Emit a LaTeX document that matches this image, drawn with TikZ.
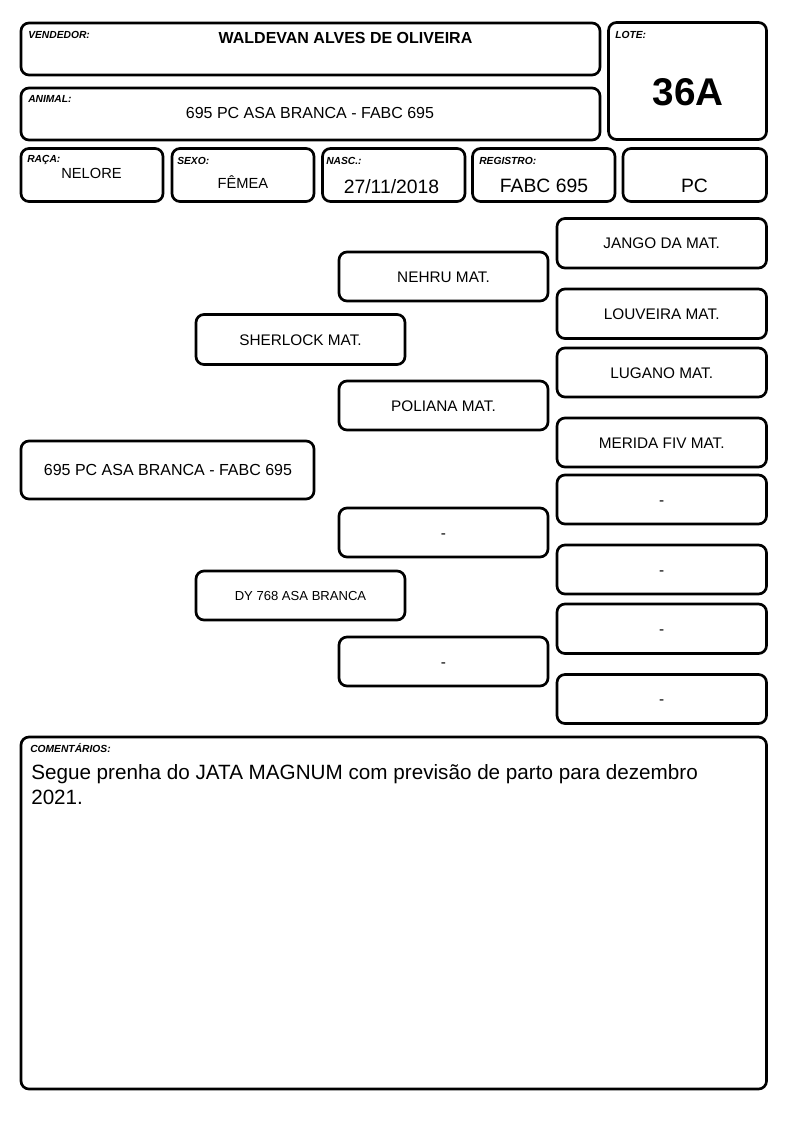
\documentclass[tikz,border=0pt]{standalone}
\usepackage{fontspec}
\setmainfont{Liberation Sans}
\begin{document}
\begin{tikzpicture}[x=0.75pt,y=-0.75pt,
  box/.style={draw=black,line width=2pt,rounded corners=6pt},
  lbl/.style={inner sep=0,anchor=base west,font=\fontsize{7.7}{9}\selectfont\bfseries\itshape},
  val/.style={inner sep=0,anchor=base},
  ped/.style={inner sep=0,anchor=base,font=\fontsize{11.5}{13}\selectfont},
]
\fill[white] (0,0) rectangle (794,1123);
\useasboundingbox (0,0) rectangle (794,1123);

% header boxes
\draw[box] (21,23) rectangle (600,75);
\draw[box] (608.5,22.5) rectangle (766.5,139.5);
\draw[box] (21,88) rectangle (600,140);
\draw[box] (21,148.5) rectangle (163,201.5);
\draw[box] (172,148.5) rectangle (314,201.5);
\draw[box] (322.5,148.5) rectangle (465,201.5);
\draw[box] (472.5,148.5) rectangle (615,201.5);
\draw[box] (623,148.5) rectangle (766.5,201.5);

% header labels
\node[lbl] (lvend) at (28,39) {VENDEDOR:};
\node[lbl] (llote) at (615,39) {LOTE:};
\node[lbl] (lanim) at (28,103) {ANIMAL:};
\node[lbl] (lraca) at (27,162.5) {RAÇA:};
\node[lbl] (lsexo) at (177,165) {SEXO:};
\node[lbl] (lnasc) at (326,165) {NASC.:};
\node[lbl] (lreg) at (479,165) {REGISTRO:};

% header values
\node[val,font=\fontsize{12}{14}\selectfont\bfseries] (vend) at (345.5,43.3) {WALDEVAN ALVES DE OLIVEIRA};
\node[val,font=\fontsize{29}{32}\selectfont\bfseries] (lote) at (688,105.7) {36A};
\node[val,font=\fontsize{12}{14}\selectfont] (anim) at (310,119) {695 PC ASA BRANCA - FABC 695};
\node[val,font=\fontsize{11}{13}\selectfont] (raca) at (91.5,178.3) {NELORE};
\node[val,font=\fontsize{11}{13}\selectfont] (sexo) at (243,189) {FÊMEA};
\node[val,font=\fontsize{14.5}{17}\selectfont] (nasc) at (391.5,193.3) {27/11/2018};
\node[val,font=\fontsize{14.5}{17}\selectfont] (reg) at (544,192.3) {FABC 695};
\node[val,font=\fontsize{14.5}{17}\selectfont] (pc) at (694.5,192.3) {PC};

% pedigree boxes
\draw[box] (21,441) rectangle (314,499);
\draw[box] (196,314.5) rectangle (405,364.5);
\draw[box] (196,571) rectangle (405,620);
\draw[box] (339,252) rectangle (548,301);
\draw[box] (339,381) rectangle (548,430);
\draw[box] (339,508) rectangle (548,557);
\draw[box] (339,637) rectangle (548,686);
\draw[box] (557,218.5) rectangle (766.5,268);
\draw[box] (557,289) rectangle (766.5,338.5);
\draw[box] (557,348) rectangle (766.5,397);
\draw[box] (557,418) rectangle (766.5,467);
\draw[box] (557,475) rectangle (766.5,524);
\draw[box] (557,545) rectangle (766.5,594);
\draw[box] (557,604) rectangle (766.5,653.5);
\draw[box] (557,674.5) rectangle (766.5,723.5);

% pedigree texts
\node[val,font=\fontsize{12}{14}\selectfont] (main) at (168,475.7) {695 PC ASA BRANCA - FABC 695};
\node[ped] (sire) at (300.5,345) {SHERLOCK MAT.};
\node[val,font=\fontsize{9.8}{12}\selectfont] (dam) at (300.5,600.2) {DY 768 ASA BRANCA};
\node[ped] (ss) at (443.5,282) {NEHRU MAT.};
\node[ped] (sd) at (443.5,411) {POLIANA MAT.};
\node[ped] (ds) at (443.5,538) {-};
\node[ped] (dd) at (443.5,667) {-};
\node[ped] (sss) at (661.7,248.8) {JANGO DA MAT.};
\node[ped] (ssd) at (661.7,319.3) {LOUVEIRA MAT.};
\node[ped] (sds) at (661.7,378) {LUGANO MAT.};
\node[ped] (sdd) at (661.7,448) {MERIDA FIV MAT.};
\node[ped] (dss) at (661.7,505) {-};
\node[ped] (dsd) at (661.7,575) {-};
\node[ped] (dds) at (661.7,634.3) {-};
\node[ped] (ddd) at (661.7,704.5) {-};

% comments
\draw[box] (21,737) rectangle (766.5,1089);
\node[lbl] (lcom) at (30,752.7) {COMENTÁRIOS:};
\node[inner sep=0,anchor=base west,font=\fontsize{15.5}{18.5}\selectfont] (com1) at (31,779.3) {Segue prenha do JATA MAGNUM com previsão de parto para dezembro};
\node[inner sep=0,anchor=base west,font=\fontsize{15.5}{18.5}\selectfont] (com2) at (31,804) {2021.};
\end{tikzpicture}
\end{document}
